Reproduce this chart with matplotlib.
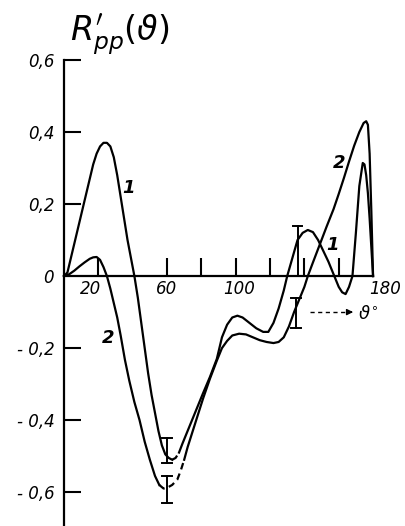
import numpy as np
import matplotlib.pyplot as plt

# angle (deg) and R'pp
theta1 = [0, 2, 4, 6.5, 9, 11, 13, 15, 17, 19, 21, 23, 25, 27, 29, 31, 33, 35, 37, 39,
          41, 43, 45, 47, 49, 51, 53, 55, 57, 59, 61, 63, 65, 67, 69, 72, 75, 78, 81, 85,
          89, 92, 95, 98, 101, 104, 108, 112, 116, 119, 122, 125, 128, 130, 133, 136, 139,
          142, 145, 148, 151, 154, 157, 160, 162, 164, 166, 168, 170, 172, 174, 175, 176,
          177, 178, 179, 180]
r1 = [0, 0.01, 0.05, 0.1, 0.15, 0.19, 0.23, 0.27, 0.31, 0.34, 0.36, 0.37, 0.37, 0.36,
      0.33, 0.28, 0.22, 0.16, 0.1, 0.05, 0.0, -0.06, -0.13, -0.2, -0.27, -0.33, -0.38,
      -0.43, -0.47, -0.495, -0.505, -0.51, -0.505, -0.49, -0.465, -0.43, -0.395, -0.36,
      -0.325, -0.28, -0.23, -0.17, -0.135, -0.115, -0.11, -0.115, -0.13, -0.145, -0.155,
      -0.155, -0.13, -0.09, -0.04, 0.0, 0.05, 0.1, 0.12, 0.128, 0.122, 0.1, 0.07, 0.04,
      0.005, -0.03, -0.045, -0.05, -0.03, 0.0, 0.12, 0.25, 0.314, 0.31, 0.28, 0.23, 0.16,
      0.08, 0.0]

theta2 = [0, 3, 6, 9, 12, 15, 17, 19, 21, 23, 25, 27, 29, 31, 33, 35.5, 38, 41, 44, 47,
          50, 53, 55.5, 58, 60, 63, 66, 68, 70, 72, 75, 78, 81, 85, 89, 92, 95, 98, 102,
          106, 110, 114, 118, 122, 125, 128, 131, 134, 137, 140, 142, 145, 149, 153, 157,
          160, 163, 166, 169, 172, 174.5, 176, 177, 178, 179, 180]
r2 = [0, 0.005, 0.015, 0.027, 0.038, 0.048, 0.052, 0.053, 0.045, 0.025, 0.0, -0.035,
      -0.075, -0.115, -0.165, -0.233, -0.29, -0.35, -0.4, -0.46, -0.51, -0.555, -0.58,
      -0.59, -0.588, -0.58, -0.565, -0.54, -0.51, -0.475, -0.43, -0.385, -0.34, -0.285,
      -0.235, -0.2, -0.18, -0.165, -0.16, -0.162, -0.17, -0.178, -0.183, -0.186, -0.183,
      -0.17, -0.14, -0.1, -0.065, -0.03, 0.0, 0.038, 0.088, 0.138, 0.186, 0.228, 0.272,
      0.318, 0.362, 0.4, 0.425, 0.43, 0.42, 0.34, 0.18, 0.0]

# error bars: angle, low, high
err_theta = [136, 135, 60, 60]
err_lo = [0.0, -0.145, -0.52, -0.63]
err_hi = [0.14, -0.06, -0.45, -0.555]

yticks = [-0.6, -0.4, -0.2, 0, 0.2, 0.4, 0.6]
ytick_labels = ['- 0,6', '- 0,4', '- 0,2', '0', '0,2', '0,4', '0,6']
xticks = [20, 60, 80, 100, 120, 140, 160]
xlabel_pos = [15.5, 60, 102, 187]
xlabel_txt = ['20', '60', '100', '180']

fig = plt.figure(figsize=(4.06, 5.26), dpi=100)
ax = fig.add_axes([64 / 406, 0, 342 / 406, 466 / 526])
ax.set_xlim(0, 342 / 1.717)
ax.set_ylim(-0.694, 0.6)


def draw(th, r, dash_from, dash_to):
    th = np.array(th)
    r = np.array(r)
    a = th <= dash_from
    b = (th >= dash_from) & (th <= dash_to)
    c = th >= dash_to
    ax.plot(th[a], r[a], color='black', lw=1.6, solid_joinstyle='round', clip_on=False)
    ax.plot(th[b], r[b], color='black', lw=1.6, ls=(0, (3, 2)), clip_on=False)
    ax.plot(th[c], r[c], color='black', lw=1.6, solid_joinstyle='round', clip_on=False)


draw(theta1, r1, 63, 67)
draw(theta2, r2, 55.5, 70)

for t, lo, hi in zip(err_theta, err_lo, err_hi):
    ax.plot([t, t], [lo, hi], color='black', lw=1.4)
    ax.plot([t - 2.8, t + 2.8], [lo, lo], color='black', lw=1.4)
    ax.plot([t - 2.8, t + 2.8], [hi, hi], color='black', lw=1.4)

for s in ['top', 'right']:
    ax.spines[s].set_visible(False)
ax.spines['left'].set_position(('data', 0))
ax.spines['left'].set_bounds(-0.694, 0.6)
ax.spines['bottom'].set_position(('data', 0))
ax.spines['bottom'].set_bounds(0, 180)
ax.spines['left'].set_linewidth(1.6)
ax.spines['bottom'].set_linewidth(1.6)

ax.set_yticks(yticks)
ax.set_yticklabels(ytick_labels, fontsize=12, fontstyle='italic')
ax.set_xticks(xticks)
ax.set_xticklabels([])
ax.tick_params(axis='y', direction='in', length=12, width=1.5, pad=7)
ax.tick_params(axis='x', direction='in', length=13, width=1.5)
ax.yaxis.get_major_ticks()[3].tick1line.set_visible(False)
for x, s in zip(xlabel_pos, xlabel_txt):
    ax.text(x, -0.012, s, fontsize=12, fontstyle='italic', ha='center', va='top')

# curve labels
for x, y, s in [(37.5, 0.245, '1'), (156.5, 0.085, '1'), (25.5, -0.172, '2'), (160.5, 0.314, '2')]:
    ax.text(x, y, s, fontsize=13, fontstyle='italic', fontweight='bold', ha='center', va='center')

# angle arrow
ax.plot([143, 166], [-0.1, -0.1], color='black', lw=1.0, ls=(0, (3, 2.5)))
ax.annotate('', xy=(170, -0.1), xytext=(165, -0.1),
            arrowprops=dict(arrowstyle='-|>', color='black', lw=1.0, mutation_scale=9))
ax.text(171, -0.105, r'$\vartheta^{\circ}$', fontsize=13, ha='left', va='center')

fig.text(70 / 406, 1 - 13 / 526, r"$R^{\prime}_{pp}(\vartheta)$", fontsize=24, ha='left', va='top')

fig.savefig('out.png', dpi=100)
